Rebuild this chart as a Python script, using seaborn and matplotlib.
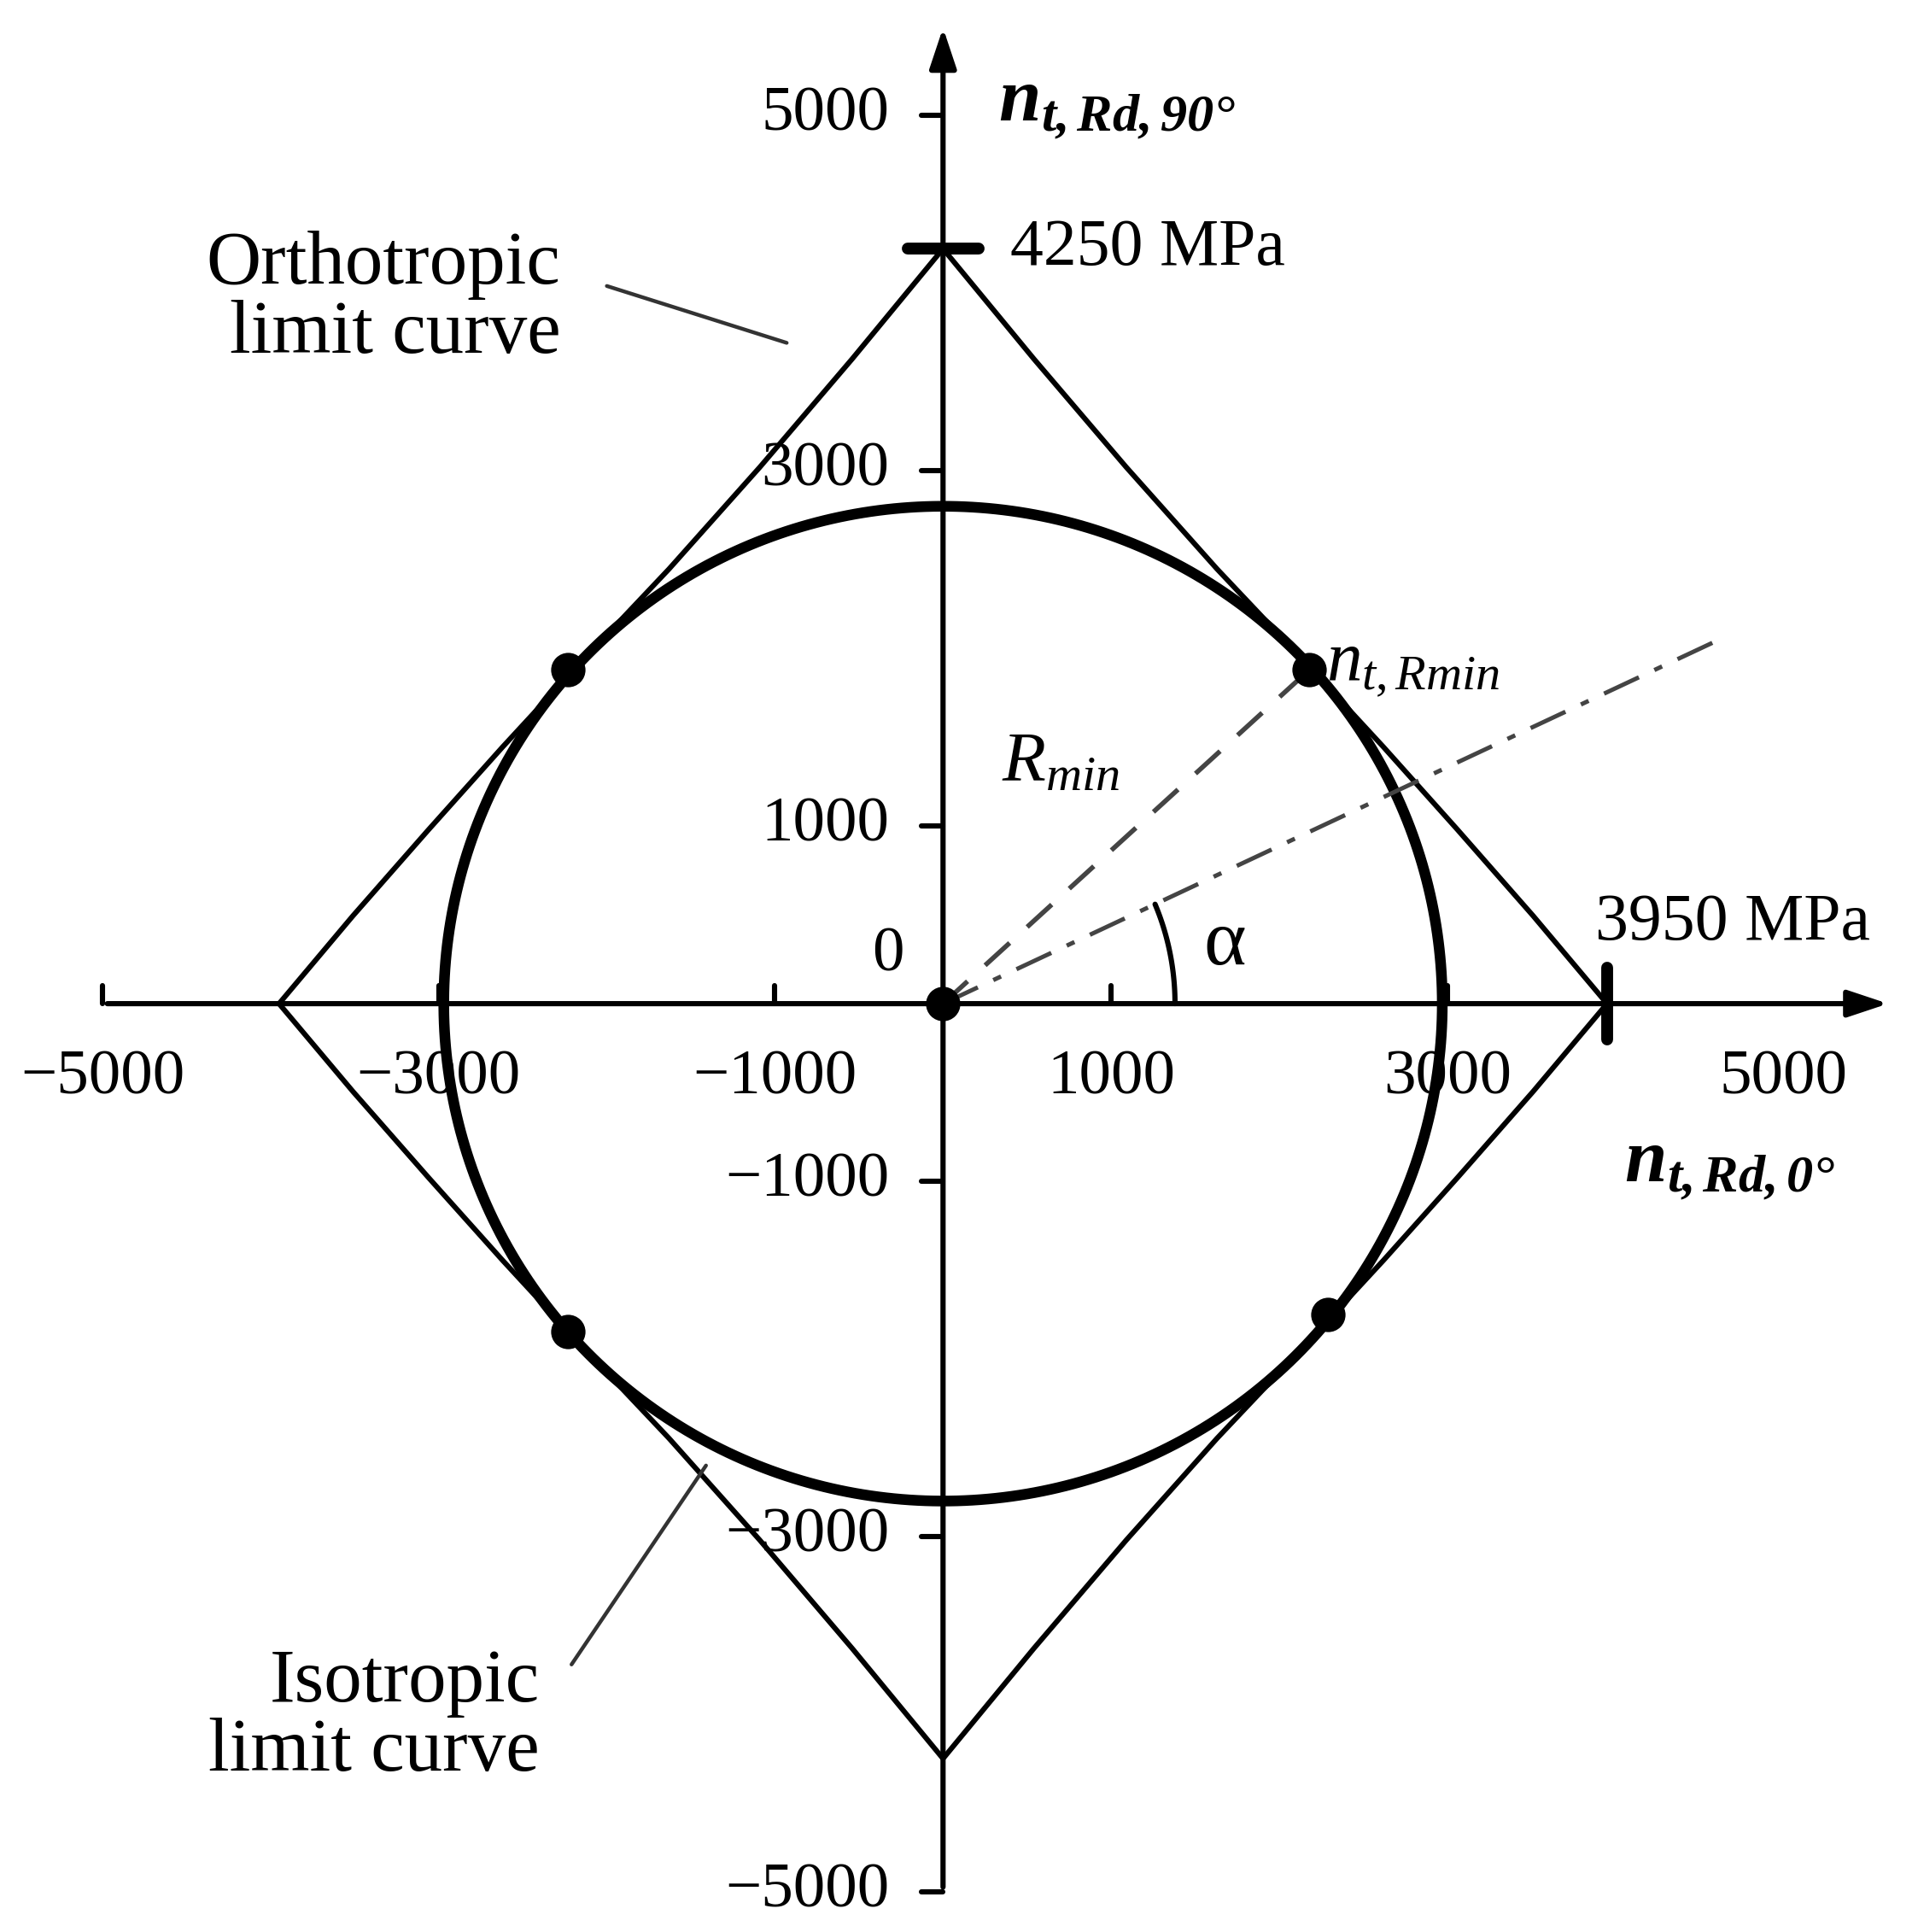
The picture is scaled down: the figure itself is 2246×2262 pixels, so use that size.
import numpy as np
import pandas as pd
import matplotlib
matplotlib.use("Agg")
import matplotlib.pyplot as plt
import seaborn as sns

sns.set_theme(style="white")
plt.rcParams['font.family'] = ['Liberation Serif', 'DejaVu Serif']
plt.rcParams['text.color'] = 'black'
plt.rcParams['mathtext.fontset'] = 'custom'
plt.rcParams['mathtext.it'] = 'Liberation Serif:italic'
plt.rcParams['mathtext.bf'] = 'Liberation Serif:bold:italic'
plt.rcParams['mathtext.rm'] = 'Liberation Serif'

# Orthotropic limit curve, first quadrant, mirrored
ortho_x_q = [0, 540, 1090, 1630, 2173, 2620, 3060, 3510, 3950]
ortho_y_q = [4250, 3630, 3020, 2447, 1903, 1445, 980, 495, 0]
# isotropic limit curve semi-axes (data units)
iso_a = 2970
iso_b = 2800
# tangent points
pts_x = [2180, -2230, -2230, 2290]
pts_y = [1880, 1880, -1845, -1750]
# dash-dot line end
dd_end = (4610, 2046)
xtick_vals = [-5000, -3000, -1000, 1000, 3000, 5000]
ytick_vals = [5000, 3000, 1000, -1000, -3000, -5000]

fig = plt.figure(figsize=(11.23, 11.31), dpi=200)
ax = fig.add_axes([0, 0, 1, 1])
ax.set_xlim(-5610, 5800)
ax.set_ylim(-5226, 5650)
ax.axis('off')

qx = np.array(ortho_x_q, float); qy = np.array(ortho_y_q, float)
ox = np.concatenate([qx, qx[::-1][1:], -qx[1:], -qx[::-1][1:]])
oy = np.concatenate([qy, -qy[::-1][1:], -qy[1:], qy[::-1][1:]])
df_o = pd.DataFrame({'x': ox, 'y': oy})
sns.lineplot(data=df_o, x='x', y='y', sort=False, estimator=None, color='black', lw=2.2, ax=ax)

t = np.linspace(0, 2*np.pi, 400)
df_i = pd.DataFrame({'x': iso_a*np.cos(t), 'y': iso_b*np.sin(t)})
sns.lineplot(data=df_i, x='x', y='y', sort=False, estimator=None, color='black', lw=4.5, ax=ax)

# axes with arrows
ax.annotate('', xy=(5650, 0), xytext=(-5000, 0),
            arrowprops=dict(arrowstyle='-|>,head_length=1.2,head_width=0.4', color='black', lw=2.2))
ax.annotate('', xy=(0, 5520), xytext=(0, -5000),
            arrowprops=dict(arrowstyle='-|>,head_length=1.2,head_width=0.4', color='black', lw=2.2))
for v in xtick_vals[:-1]:
    ax.plot([v, v], [0, 100], color='black', lw=2.2)
for v in ytick_vals:
    ax.plot([-130, 0], [v, v], color='black', lw=2.2)
for v in xtick_vals:
    ax.text(v, -260, f"{v}".replace('-', '−'), ha='center', va='top', fontsize=27)
for v in ytick_vals:
    ax.text(-320, v, f"{v}".replace('-', '−'), ha='right', va='center', fontsize=27)
ax.text(-230, 270, "0", ha='right', va='center', fontsize=27)

# endpoint markers
ax.plot([-210, 210], [4250, 4250], color='black', lw=5)
ax.plot([3950, 3950], [-200, 200], color='black', lw=5)
ax.text(400, 4250, "4250 MPa", ha='left', va='center', fontsize=28)
ax.text(3880, 450, "3950 MPa", ha='left', va='center', fontsize=28)

# lines
ax.plot([0, pts_x[0]], [0, pts_y[0]], color='#444444', lw=2, dashes=(7, 5))
ax.plot([0, dd_end[0]], [0, dd_end[1]], color='#444444', lw=1.8, dashes=(9, 4, 2, 4))
ang = np.arctan2(dd_end[1], dd_end[0])
ta = np.linspace(0, ang, 50)
ax.plot(1380*np.cos(ta), 1380*np.sin(ta), color='black', lw=2.2)
ax.text(1550, 330, "α", fontsize=34, ha='left', va='center')

sns.scatterplot(x=pts_x + [0], y=pts_y + [0], color='black', edgecolor='black', s=180,
                ax=ax, legend=False, zorder=5)

ax.text(2280, 1900, r"$n_{t,Rmin}$", fontsize=30, ha='left', va='center')
ax.text(350, 1350, r"$R_{min}$", fontsize=30, ha='left', va='center')
ax.text(330, 5050, r"$\mathbf{n_{t,Rd,90°}}$", fontsize=32, ha='left', va='center')
ax.text(4050, -920, r"$\mathbf{n_{t,Rd,0°}}$", fontsize=32, ha='left', va='center')

ax.text(-2275, 3960, "Orthotropic\nlimit curve", fontsize=32, ha='right', va='center', linespacing=1.0)
ax.plot([-2000, -930], [4040, 3720], color='#333333', lw=1.6)
ax.text(-2400, -4020, "Isotropic\nlimit curve", fontsize=32, ha='right', va='center', linespacing=1.0)
ax.plot([-2210, -1410], [-3720, -2600], color='#333333', lw=1.6)

fig.savefig("out.png", dpi=200, facecolor='white')
